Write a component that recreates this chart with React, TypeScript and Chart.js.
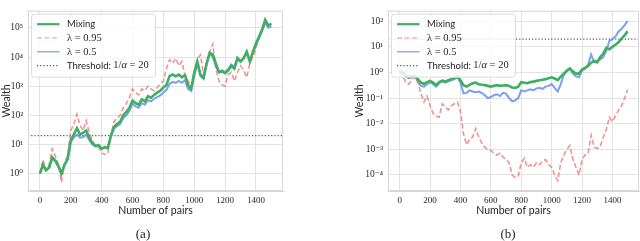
import React, { useEffect, useRef } from 'react';
import { Chart, registerables } from 'chart.js';

Chart.register(...registerables);

// ---------- data ----------
const pairs = [
  0, 20, 40, 60, 80, 100, 120, 140, 160, 180,
  200, 220, 240, 260, 280, 300, 320, 340, 360, 380,
  400, 420, 440, 460, 480, 500, 520, 540, 560, 580,
  600, 620, 640, 660, 680, 700, 720, 740, 760, 780,
  800, 820, 840, 860, 880, 900, 920, 940, 960, 980,
  1000, 1020, 1040, 1060, 1080, 1100, 1120, 1140, 1160, 1180,
  1200, 1220, 1240, 1260, 1280, 1300, 1320, 1340, 1360, 1380,
  1400, 1420, 1440, 1460, 1480, 1500,
];

// (a)
const mixingA = [
  1.0, 2.0, 1.3, 1.6, 3.6, 2.8, 1.8, 1.0, 2.0, 3.2,
  14, 22, 36, 22, 25, 30, 17, 11, 9, 9.5,
  7, 8, 7.5, 20, 40, 50, 60, 100, 130, 180,
  320, 260, 230, 350, 300, 450, 400, 500, 600, 700,
  900, 1100, 2200, 2500, 2200, 2500, 2000, 2400, 1100, 800,
  3000, 7000, 2500, 1900, 6000, 14000, 12000, 6000, 3000, 3200,
  2800, 3500, 5000, 4000, 9000, 7000, 9000, 15000, 7000, 15000,
  29000, 50000, 90000, 190000, 120000, 140000,
];
const lambda095A = [
  1.0, 3.0, 1.3, 2.0, 7.0, 4.0, 2.0, 0.5, 2.5, 4.0,
  30, 50, 110, 45, 30, 65, 25, 14, 9, 8,
  5, 4.5, 5, 20, 60, 80, 100, 180, 250, 400,
  800, 600, 500, 800, 700, 1000, 800, 700, 900, 1200,
  1500, 4000, 8000, 6000, 9000, 5000, 7000, 2300, 1500, 1000,
  2500, 8000, 12000, 2500, 6000, 15000, 28000, 4000, 1500, 1100,
  1000, 2500, 3000, 1500, 3000, 5000, 3500, 2000, 6000, 10000,
  20000, 50000, 80000, 170000, 120000, 100000,
];
const lambda05A = [
  1.0, 1.9, 1.3, 1.6, 3.4, 2.6, 1.7, 1.0, 2.0, 3.0,
  12, 17, 22, 17, 18, 22, 14, 10, 8.5, 9,
  7, 8, 7.5, 18, 35, 42, 50, 80, 100, 140,
  250, 200, 180, 260, 230, 330, 300, 370, 420, 480,
  600, 750, 1200, 1400, 1300, 1500, 1300, 1600, 800, 700,
  2200, 6000, 2200, 1800, 5500, 13000, 10000, 5000, 3000, 3500,
  3000, 3800, 5500, 4500, 9500, 7500, 9500, 15000, 7500, 14000,
  27000, 45000, 80000, 150000, 100000, 110000,
];

// (b)
const mixingB = [
  1.1, 1.0, 0.75, 0.65, 0.7, 0.75, 0.55, 0.4, 0.36, 0.42,
  0.47, 0.4, 0.32, 0.42, 0.48, 0.45, 0.5, 0.55, 0.6, 0.7,
  0.5, 0.32, 0.28, 0.33, 0.38, 0.4, 0.35, 0.33, 0.32, 0.3,
  0.28, 0.3, 0.32, 0.3, 0.31, 0.32, 0.3, 0.26, 0.25, 0.28,
  0.42, 0.4, 0.38, 0.42, 0.44, 0.47, 0.5, 0.52, 0.55, 0.6,
  0.65, 0.58, 0.5, 0.68, 0.9, 1.2, 1.45, 1.1, 0.9, 0.9,
  1.3, 1.5, 1.8, 2.4, 2.8, 2.5, 4.0, 5.5, 9.0, 8.0,
  10, 12, 15, 21, 28, 41,
];
const lambda095B = [
  1.1, 0.8, 0.4, 0.35, 0.5, 0.7, 0.4, 0.15, 0.07, 0.12,
  0.05, 0.025, 0.02, 0.018, 0.06, 0.045, 0.035, 0.05, 0.06, 0.07,
  0.03, 0.004, 0.0015, 0.0025, 0.003, 0.0065, 0.003, 0.0018, 0.0012, 0.001,
  0.0009, 0.0007, 0.0006, 0.0007, 0.0005, 0.0004, 0.0003, 0.0001, 0.00008, 0.00009,
  0.0003, 0.00045, 0.0002, 0.00025, 0.0002, 0.0003, 0.00025, 0.00035, 0.0004, 0.00025,
  0.0002, 0.0001, 0.00006, 0.0003, 0.0006, 0.001, 0.0014, 0.0004, 0.0002, 0.0001,
  0.0004, 0.0006, 0.0007, 0.0035, 0.0012, 0.0011, 0.0013, 0.003, 0.006, 0.018,
  0.012, 0.02, 0.033, 0.05, 0.1, 0.21,
];
const lambda05B = [
  1.1, 1.0, 0.7, 0.6, 0.65, 0.7, 0.45, 0.3, 0.28, 0.35,
  0.42, 0.35, 0.28, 0.38, 0.45, 0.4, 0.45, 0.5, 0.55, 0.65,
  0.4, 0.15, 0.16, 0.2, 0.18, 0.17, 0.18, 0.16, 0.13, 0.1,
  0.11, 0.13, 0.14, 0.12, 0.16, 0.15, 0.1, 0.075, 0.08, 0.1,
  0.2, 0.18, 0.2, 0.22, 0.2, 0.24, 0.25, 0.23, 0.28, 0.3,
  0.35, 0.25, 0.18, 0.35, 0.8, 1.1, 1.4, 0.9, 0.7, 0.65,
  1.2, 1.4, 2.0, 5.0, 2.5, 2.8, 3.2, 4.0, 7.0, 17,
  20, 25, 40, 50, 70, 100,
];

const threshold = 20; // 1/alpha
const xTicks = [0, 200, 400, 600, 800, 1000, 1200, 1400];
const yTicksA = [1, 10, 100, 1000, 10000, 100000];
const yTicksB = [0.0001, 0.001, 0.01, 0.1, 1, 10, 100];
const seriesLabels = ['Mixing', 'λ = 0.95', 'λ = 0.5', 'Threshold: 1/α = 20'];

// ---------- styling ----------
const SANS = 'Lato, "Liberation Sans", sans-serif';
const SERIF = '"Liberation Serif", "DejaVu Serif", serif';
const GRID = '#e3e3e3';
const FRAME = '#d6d6d6';
const TEXT = '#262626';
const X_MIN = -77;
const X_MAX = 1575;

const SUP: Record<string, string> = {
  '0': '⁰', '1': '¹', '2': '²', '3': '³', '4': '⁴', '5': '⁵',
  '6': '⁶', '7': '⁷', '8': '⁸', '9': '⁹', '-': '⁻',
};
const powerLabel = (v: number) =>
  '10' + String(Math.round(Math.log10(v))).split('').map((c) => SUP[c] || c).join('');

function drawLegendLabel(ctx: CanvasRenderingContext2D, label: string, x: number, y: number) {
  ctx.fillStyle = TEXT;
  ctx.textBaseline = 'middle';
  ctx.textAlign = 'left';
  if (label.startsWith('Threshold:')) {
    ctx.font = `9.5px ${SANS}`;
    const head = 'Threshold: ';
    ctx.fillText(head, x, y);
    let cx = x + ctx.measureText(head).width;
    const rest = label.slice(head.length); // 1/α = 20
    const parts = rest.split('α');
    ctx.font = `10.5px ${SERIF}`;
    ctx.fillText(parts[0], cx, y);
    cx += ctx.measureText(parts[0]).width;
    ctx.font = `italic 10.5px ${SERIF}`;
    ctx.fillText('α', cx, y);
    cx += ctx.measureText('α').width;
    ctx.font = `10.5px ${SERIF}`;
    ctx.fillText(parts[1], cx, y);
  } else if (label.startsWith('λ')) {
    ctx.font = `10.5px ${SERIF}`;
    ctx.fillText(label, x, y);
  } else {
    ctx.font = `9.5px ${SANS}`;
    ctx.fillText(label, x, y);
  }
}

const framePlugin = {
  id: 'frameAndLegend',
  afterDatasetsDraw(chart: any) {
    const { ctx, chartArea: a } = chart;
    ctx.save();
    ctx.strokeStyle = FRAME;
    ctx.lineWidth = 1;
    ctx.strokeRect(a.left + 0.5, a.top + 0.5, a.right - a.left - 1, a.bottom - a.top - 1);

    // legend
    const bx = a.left + 3.5;
    const by = a.top + 3.5;
    const bw = 124;
    const bh = 63;
    const r = 3;
    ctx.beginPath();
    ctx.moveTo(bx + r, by);
    ctx.lineTo(bx + bw - r, by);
    ctx.quadraticCurveTo(bx + bw, by, bx + bw, by + r);
    ctx.lineTo(bx + bw, by + bh - r);
    ctx.quadraticCurveTo(bx + bw, by + bh, bx + bw - r, by + bh);
    ctx.lineTo(bx + r, by + bh);
    ctx.quadraticCurveTo(bx, by + bh, bx, by + bh - r);
    ctx.lineTo(bx, by + r);
    ctx.quadraticCurveTo(bx, by, bx + r, by);
    ctx.closePath();
    ctx.fillStyle = 'rgba(255,255,255,0.8)';
    ctx.fill();
    ctx.strokeStyle = '#dcdcdc';
    ctx.stroke();

    chart.data.datasets.forEach((ds: any, i: number) => {
      const cy = by + 10 + i * 13.8;
      ctx.beginPath();
      ctx.setLineDash(ds.borderDash || []);
      ctx.strokeStyle = ds.borderColor;
      ctx.lineWidth = ds.legendWidth || ds.borderWidth;
      ctx.moveTo(bx + 5.5, cy);
      ctx.lineTo(bx + 28, cy);
      ctx.stroke();
      ctx.setLineDash([]);
      drawLegendLabel(ctx, ds.label, bx + 35.5, cy);
    });
    ctx.restore();
  },
};

function makeConfig(
  mix: number[],
  high: number[],
  half: number[],
  yTicks: number[],
  yMin: number,
  yMax: number,
  padding: { left: number; right: number; top: number; bottom: number },
  yAxisWidth: number,
): any {
  const toPts = (arr: number[]) => pairs.map((p, i) => ({ x: p, y: arr[i] }));
  return {
    type: 'line',
    data: {
      datasets: [
        {
          label: seriesLabels[0],
          data: toPts(mix),
          borderColor: '#3fae63',
          borderWidth: 2.6,
          legendWidth: 2.2,
          pointRadius: 0,
          tension: 0,
        },
        {
          label: seriesLabels[1],
          data: toPts(high),
          borderColor: 'rgba(234,112,112,0.75)',
          borderWidth: 1.6,
          legendWidth: 1.2,
          borderDash: [5, 2.5],
          pointRadius: 0,
          tension: 0,
        },
        {
          label: seriesLabels[2],
          data: toPts(half),
          borderColor: 'rgba(100,145,235,0.85)',
          borderWidth: 2.0,
          legendWidth: 1.3,
          pointRadius: 0,
          tension: 0,
        },
        {
          label: seriesLabels[3],
          data: [
            { x: X_MIN, y: threshold },
            { x: X_MAX, y: threshold },
          ],
          borderColor: '#555555',
          borderWidth: 1.1,
          borderDash: [1.2, 2],
          pointRadius: 0,
          tension: 0,
        },
      ],
    },
    options: {
      animation: false,
      responsive: false,
      maintainAspectRatio: false,
      devicePixelRatio: 1,
      layout: { padding },
      plugins: {
        legend: { display: false },
        tooltip: { enabled: false },
      },
      scales: {
        x: {
          type: 'linear',
          min: X_MIN,
          max: X_MAX,
          afterBuildTicks: (s: any) => {
            s.ticks = xTicks.map((v) => ({ value: v }));
          },
          afterFit: (s: any) => {
            s.height = 28;
          },
          ticks: {
            autoSkip: false,
            maxRotation: 0,
            padding: 4,
            color: TEXT,
            font: { family: SERIF, size: 9 },
            callback: (v: number) => String(v),
          },
          grid: { color: GRID, lineWidth: 1, drawTicks: false },
          border: { display: true, color: FRAME },
          title: {
            display: true,
            text: 'Number of pairs',
            color: TEXT,
            font: { family: SANS, size: 10.5 },
            padding: { top: 0, bottom: 2 },
          },
        },
        y: {
          type: 'logarithmic',
          min: yMin,
          max: yMax,
          afterBuildTicks: (s: any) => {
            s.ticks = yTicks.map((v) => ({ value: v }));
          },
          afterFit: (s: any) => {
            s.width = yAxisWidth;
          },
          ticks: {
            autoSkip: false,
            padding: 5,
            color: TEXT,
            font: { family: SERIF, size: 9.5 },
            callback: (v: number) => powerLabel(v),
          },
          grid: { color: GRID, lineWidth: 1, drawTicks: false },
          border: { display: true, color: FRAME },
          title: {
            display: true,
            text: 'Wealth',
            color: TEXT,
            font: { family: SANS, size: 10.5 },
            padding: { top: 0, bottom: 0 },
          },
        },
      },
    },
    plugins: [framePlugin],
  };
}

function Panel(props: { config: any; left: number }) {
  const ref = useRef<HTMLCanvasElement | null>(null);
  useEffect(() => {
    if (!ref.current) return;
    const chart = new Chart(ref.current, props.config);
    return () => chart.destroy();
  }, []);
  return (
    <canvas
      ref={ref}
      width={320}
      height={241}
      style={{ position: 'absolute', left: props.left, top: 0, width: 320, height: 241 }}
    />
  );
}

const captionStyle = (cx: number): React.CSSProperties => ({
  position: 'absolute',
  top: 226,
  left: cx - 20,
  width: 40,
  textAlign: 'center',
  fontFamily: SERIF,
  fontSize: 13,
  lineHeight: '15px',
  color: TEXT,
});

export default function App() {
  const cfgA = makeConfig(
    mixingA, lambda095A, lambda05A, yTicksA,
    Math.pow(10, -0.6), Math.pow(10, 5.59),
    { left: 0, right: 37, top: 2, bottom: 22 }, 28,
  );
  const cfgB = makeConfig(
    mixingB, lambda095B, lambda05B, yTicksB,
    Math.pow(10, -4.625), Math.pow(10, 2.41),
    { left: 33, right: 1, top: 3, bottom: 22 }, 35,
  );
  return (
    <div
      style={{
        position: 'fixed',
        left: 0,
        top: 0,
        width: 640,
        height: 241,
        background: '#ffffff',
        overflow: 'hidden',
      }}
    >
      <Panel config={cfgA} left={0} />
      <Panel config={cfgB} left={320} />
      <div style={captionStyle(143)}>(a)</div>
      <div style={captionStyle(508)}>(b)</div>
    </div>
  );
}
